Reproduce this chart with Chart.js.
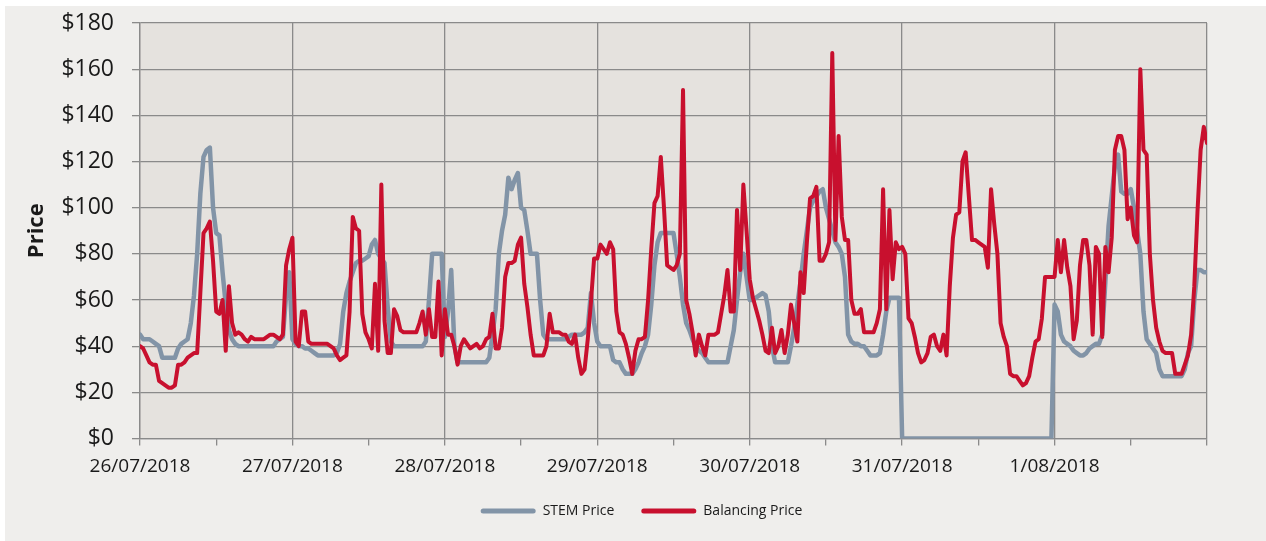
<!DOCTYPE html>
<html lang="en">
<head>
  <meta charset="UTF-8">
  <title>STEM and Balancing Price</title>
  <style>
    html, body {
      margin: 0;
      padding: 0;
      background: #ffffff;
    }
    canvas {
      display: block;
    }
  </style>
</head>
<body>
  <canvas id="priceChart" width="1266" height="541"></canvas>

  <script src="https://cdn.jsdelivr.net/npm/chart.js@4.4.1/dist/chart.umd.min.js"></script>
  <script>
    // one label per trading day, half-hourly intervals (48 per day)
    const dayLabels = ['26/07/2018', '27/07/2018', '28/07/2018', '29/07/2018', '30/07/2018', '31/07/2018', '1/08/2018'];
    const intervalsPerDay = 48;

    const stemPrice = [
      45, 43, 43, 43, 42, 41, 40, 35, 35, 35, 35, 35, 39, 41, 42, 43, 50, 62, 80, 106, 122, 125, 126, 100,
      89, 88, 72, 58, 47, 43, 41, 40, 40, 40, 40, 40, 40, 40, 40, 40, 40, 40, 40, 42, 43, 44, 62, 72,
      43, 41, 40, 40, 39, 39, 38, 37, 36, 36, 36, 36, 36, 36, 37, 41, 55, 63, 68, 72, 76, 77, 77, 78,
      79, 84, 86, 80, 78, 76, 57, 42, 40, 40, 40, 40, 40, 40, 40, 40, 40, 40, 42, 60, 80, 80, 80, 80,
      44, 55, 73, 40, 33, 33, 33, 33, 33, 33, 33, 33, 33, 33, 35, 45, 56, 80, 90, 97, 113, 108, 112, 115,
      100, 99, 90, 80, 80, 80, 60, 45, 43, 43, 43, 43, 43, 43, 43, 44, 45, 45, 45, 45, 46, 48, 63, 50,
      42, 40, 40, 40, 40, 34, 33, 33, 30, 28, 28, 28, 30, 33, 37, 40, 45, 58, 75, 85, 89, 89, 89, 89,
      89, 80, 70, 58, 50, 47, 43, 40, 38, 37, 35, 33, 33, 33, 33, 33, 33, 33, 40, 47, 60, 72, 80, 70,
      60, 60, 61, 62, 63, 62, 55, 40, 33, 33, 33, 33, 33, 40, 48, 58, 68, 80, 90, 100, 103, 105, 107, 108,
      100, 95, 90, 85, 83, 80, 70, 45, 42, 41, 41, 40, 40, 38, 36, 36, 36, 37, 45, 55, 61, 61, 61, 61,
      0, 0, 0, 0, 0, 0, 0, 0, 0, 0, 0, 0, 0, 0, 0, 0, 0, 0, 0, 0, 0, 0, 0, 0,
      0, 0, 0, 0, 0, 0, 0, 0, 0, 0, 0, 0, 0, 0, 0, 0, 0, 0, 0, 0, 0, 0, 0, 0,
      58, 55, 45, 42, 41, 40, 38, 37, 36, 36, 37, 39, 40, 41, 41, 45, 68, 92, 105, 118, 123, 107, 106, 106,
      108, 100, 90, 80, 55, 43, 41, 39, 37, 30, 27, 27, 27, 27, 27, 27, 27, 30, 37, 40, 60, 73, 73, 72,
      72
    ];

    const balancingPrice = [
      40, 39, 36, 33, 32, 32, 25, 24, 23, 22, 22, 23, 32, 32, 33, 35, 36, 37, 37, 63, 89, 91, 94, 77,
      55, 54, 60, 38, 66, 50, 45, 46, 45, 43, 42, 44, 43, 43, 43, 43, 44, 45, 45, 44, 43, 45, 75, 82,
      87, 42, 40, 55, 55, 42, 41, 41, 41, 41, 41, 41, 40, 39, 36, 34, 35, 36, 55, 96, 91, 90, 54, 46,
      43, 39, 67, 38, 110, 51, 37, 37, 56, 53, 47, 46, 46, 46, 46, 46, 50, 55, 45, 56, 44, 44, 68, 36,
      56, 45, 45, 40, 32, 40, 43, 41, 39, 40, 41, 39, 40, 43, 44, 54, 39, 39, 48, 70, 76, 76, 77, 84,
      87, 67, 57, 45, 36, 36, 36, 36, 40, 54, 46, 46, 46, 45, 45, 42, 41, 45, 35, 28, 30, 43, 59, 78,
      78, 84, 82, 80, 85, 82, 55, 46, 45, 41, 35, 28, 38, 43, 43, 44, 60, 82, 102, 105, 122, 100, 75, 74,
      73, 75, 80, 151, 60, 54, 46, 36, 45, 40, 36, 45, 45, 45, 46, 54, 62, 73, 55, 55, 99, 73, 110, 90,
      69, 61, 56, 51, 45, 38, 37, 48, 37, 40, 47, 37, 45, 58, 50, 42, 72, 63, 85, 104, 105, 109, 77, 77,
      80, 85, 167, 86, 131, 96, 86, 86, 60, 54, 54, 56, 46, 46, 46, 46, 50, 56, 108, 56, 99, 69, 85, 82,
      83, 80, 52, 50, 44, 37, 33, 34, 37, 44, 45, 40, 38, 45, 36, 66, 87, 97, 98, 120, 124, 105, 86, 86,
      85, 84, 83, 74, 108, 93, 80, 50, 44, 40, 28, 27, 27, 25, 23, 24, 27, 35, 42, 43, 52, 70, 70, 70,
      70, 86, 72, 86, 74, 66, 43, 51, 75, 86, 86, 75, 45, 83, 80, 44, 83, 72, 87, 125, 131, 131, 125, 95,
      100, 88, 85, 160, 125, 123, 80, 60, 48, 42, 38, 37, 37, 37, 28, 28, 28, 32, 36, 45, 66, 98, 125, 135,
      128
    ];

    const priceTicks = { min: 0, max: 180, step: 20 };

    const gridColor = '#8a8a8a';
    const textColor = '#1a1a1a';
    const stemColor = '#8294a7';
    const balancingColor = '#c8102e';

    function toPoints(values) {
      return values.map(function(v, i) {
        return { x: i, y: v };
      });
    }

    // page backdrop + plot area fill
    const backdrop = {
      id: 'backdrop',
      beforeDraw(chart) {
        const ctx = chart.ctx;
        const a = chart.chartArea;
        ctx.save();
        ctx.fillStyle = '#ffffff';
        ctx.fillRect(0, 0, chart.width, chart.height);
        ctx.fillStyle = '#efeeec';
        ctx.fillRect(5, 6, chart.width - 5, chart.height - 6);
        ctx.fillStyle = '#e5e2de';
        ctx.fillRect(a.left, a.top, a.right - a.left, a.bottom - a.top);
        ctx.restore();
      }
    };

    // legend sits centred on the page, not on the area left of the right padding
    const legendShift = {
      id: 'legendShift',
      afterLayout(chart) {
        chart.legend.left += 38;
        chart.legend.right += 38;
      }
    };

    const lastIndex = intervalsPerDay * dayLabels.length;

    new Chart(document.getElementById('priceChart'), {
      type: 'line',
      data: {
        datasets: [{
          label: 'STEM Price',
          data: toPoints(stemPrice),
          borderColor: stemColor,
          backgroundColor: stemColor,
          borderWidth: 4.5,
          pointRadius: 0,
          tension: 0,
          borderJoinStyle: 'round',
          borderCapStyle: 'round',
          order: 2
        }, {
          label: 'Balancing Price',
          data: toPoints(balancingPrice),
          borderColor: balancingColor,
          backgroundColor: balancingColor,
          borderWidth: 4,
          pointRadius: 0,
          tension: 0,
          borderJoinStyle: 'round',
          borderCapStyle: 'round',
          order: 1
        }]
      },
      options: {
        responsive: false,
        animation: false,
        events: [],
        devicePixelRatio: 1,
        layout: {
          padding: { top: 23, right: 59, bottom: 13, left: 0 }
        },
        plugins: {
          tooltip: { enabled: false },
          legend: {
            position: 'bottom',
            labels: {
              boxWidth: 55,
              boxHeight: 5,
              useBorderRadius: true,
              borderRadius: 2.5,
              padding: 27,
              color: textColor,
              font: { family: 'Open Sans', size: 14 },
              generateLabels(chart) {
                return Chart.defaults.plugins.legend.labels.generateLabels(chart).map(function(item) {
                  item.lineWidth = 0;
                  item.strokeStyle = 'rgba(0,0,0,0)';
                  return item;
                });
              },
              sort(a, b) {
                return a.datasetIndex - b.datasetIndex;
              }
            }
          }
        },
        scales: {
          x: {
            type: 'linear',
            min: 0,
            max: lastIndex,
            afterBuildTicks(scale) {
              const ticks = [];
              for (let v = 0; v <= lastIndex; v += intervalsPerDay / 2) {
                ticks.push({ value: v });
              }
              scale.ticks = ticks;
            },
            afterFit(scale) {
              scale.height = 38.5;
            },
            ticks: {
              autoSkip: false,
              maxRotation: 0,
              padding: 10,
              color: textColor,
              font: { family: 'Open Sans', size: 19 },
              callback(value) {
                if (value % intervalsPerDay === 0 && value < lastIndex) {
                  return dayLabels[value / intervalsPerDay];
                }
                return '';
              }
            },
            grid: {
              color(ctx) {
                return ctx.tick && ctx.tick.value % intervalsPerDay === 0 ? gridColor : 'rgba(0,0,0,0)';
              },
              tickColor: gridColor,
              tickLength: 7,
              lineWidth: 1.3
            },
            border: { color: gridColor, width: 1.3 }
          },
          y: {
            min: priceTicks.min,
            max: priceTicks.max,
            afterFit(scale) {
              scale.width = 140;
              // tick padding should not push the plot down
              scale.paddingTop = 0;
              scale.paddingBottom = 0;
            },
            ticks: {
              stepSize: priceTicks.step,
              padding: 18,
              color: textColor,
              font: { family: 'Open Sans', size: 23 },
              callback(value) {
                return '$' + value;
              }
            },
            grid: {
              color: gridColor,
              tickColor: gridColor,
              tickLength: 8,
              lineWidth: 1.3
            },
            border: { color: gridColor, width: 1.3 },
            title: {
              display: true,
              text: 'Price',
              color: textColor,
              font: { family: 'Open Sans', size: 22, weight: 'bold' },
              padding: { top: 24, bottom: 0 }
            }
          }
        }
      },
      plugins: [backdrop, legendShift]
    });
  </script>
</body>
</html>
